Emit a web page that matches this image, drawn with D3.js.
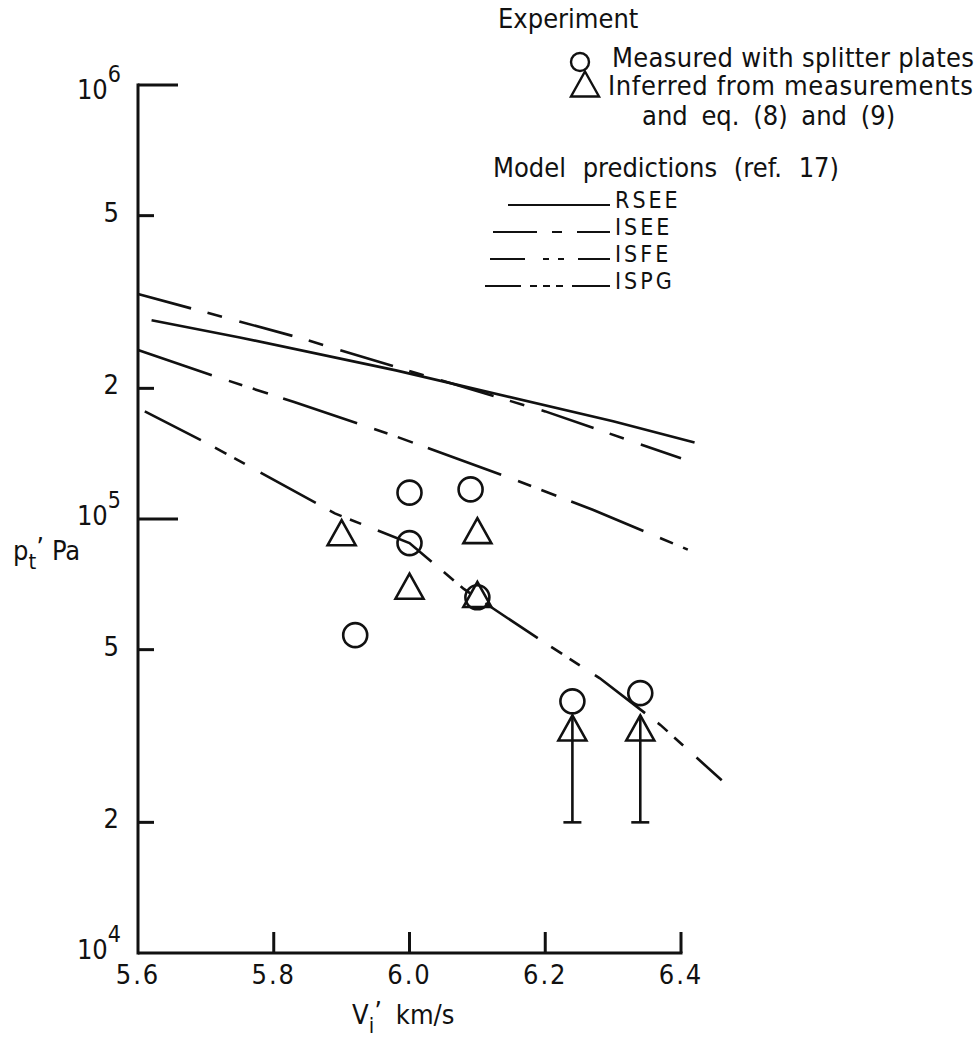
<!DOCTYPE html>
<html>
<head>
<meta charset="utf-8">
<script src="https://cdn.jsdelivr.net/npm/d3@7"></script>
<style>
  body { margin: 0; background: #fff; }
  svg { display: block; background: #fff; }
  text { font-family: "Liberation Sans Narrow", "DejaVu Sans Condensed", "Liberation Sans", sans-serif; fill: #111; }
</style>
</head>
<body>
<svg width="976" height="1044"></svg>
<script>
// axis ticks
const xTicks = [5.6, 5.8, 6.0, 6.2, 6.4];
const xTickLabels = ["5.6", "5.8", "6.0", "6.2", "6.4"];
const yDecades = [1e4, 1e5, 1e6];
const yDecadeExp = ["4", "5", "6"];
const yMinor = [2e4, 5e4, 2e5, 5e5];
const yMinorLabels = ["2", "5", "2", "5"];

// model predictions (ref. 17), V_i in km/s, p_t in Pa
const rseeV = [5.62, 5.75, 5.98, 6.30, 6.42];
const rseeP = [2.87e5, 2.62e5, 2.20e5, 1.68e5, 1.50e5];
const iseeV = [5.60, 5.84, 5.98, 6.20, 6.40];
const iseeP = [3.30e5, 2.61e5, 2.24e5, 1.77e5, 1.38e5];
const isfeV = [5.60, 5.71, 5.83, 5.97, 6.15, 6.27, 6.41];
const isfeP = [2.45e5, 2.14e5, 1.86e5, 1.57e5, 1.24e5, 1.05e5, 8.5e4];
const ispgV = [5.61, 5.70, 5.89, 6.00, 6.08, 6.19, 6.28, 6.37, 6.46];
const ispgP = [1.77e5, 1.50e5, 1.03e5, 8.8e4, 6.9e4, 5.3e4, 4.3e4, 3.35e4, 2.5e4];

// experiment
const measuredV = [5.92, 6.00, 6.00, 6.09, 6.10, 6.24, 6.34];
const measuredP = [5.4e4, 1.15e5, 8.8e4, 1.17e5, 6.6e4, 3.8e4, 3.97e4];
const inferredV = [5.90, 6.00, 6.10, 6.10, 6.24, 6.34];
const inferredP = [9.3e4, 7.0e4, 9.4e4, 6.7e4, 3.3e4, 3.3e4];
const inferredLow = [null, null, null, null, 2e4, 2e4];

const modelNames = ["RSEE", "ISEE", "ISFE", "ISPG"];

const svg = d3.select("svg");

const x = d3.scaleLinear().domain([5.6, 6.4]).range([138, 681]);
const y = d3.scaleLog().domain([1e4, 1e6]).range([953, 85]);

const ink = "#111";

// axes (ticks point inward, like the original)
const axes = svg.append("g").attr("stroke", ink).attr("stroke-width", 3).attr("fill", "none");
axes.append("line")
  .attr("x1", x(5.6)).attr("x2", x(5.6))
  .attr("y1", y(1e6) - 1.5).attr("y2", y(1e4) + 1.5);
axes.append("line")
  .attr("x1", x(5.6)).attr("x2", x(6.4) + 1.5)
  .attr("y1", y(1e4)).attr("y2", y(1e4));

axes.selectAll(".ydec").data(yDecades.slice(1)).join("line")
  .attr("x1", x(5.6)).attr("x2", x(5.6) + 40)
  .attr("y1", (d) => y(d)).attr("y2", (d) => y(d));
axes.selectAll(".ymin").data(yMinor).join("line")
  .attr("x1", x(5.6)).attr("x2", x(5.6) + 16)
  .attr("y1", (d) => y(d)).attr("y2", (d) => y(d));
axes.selectAll(".xt").data(xTicks.slice(1)).join("line")
  .attr("x1", (d) => x(d)).attr("x2", (d) => x(d))
  .attr("y1", y(1e4)).attr("y2", y(1e4) - 21);

// tick labels
svg.selectAll(".xl").data(xTicks).join("text")
  .attr("x", (d) => x(d))
  .attr("y", 984)
  .attr("text-anchor", "middle")
  .attr("font-size", 27)
  .attr("letter-spacing", 2)
  .text((d, i) => xTickLabels[i]);

svg.selectAll(".yl").data(yMinor).join("text")
  .attr("x", 119)
  .attr("y", (d) => y(d) + 6)
  .attr("text-anchor", "end")
  .attr("font-size", 27)
  .text((d, i) => yMinorLabels[i]);

const dec = svg.selectAll(".yd").data(yDecades).join("text")
  .attr("x", 121)
  .attr("y", (d) => y(d) + (d === 1e6 ? 14 : 6))
  .attr("text-anchor", "end")
  .attr("font-size", 27);
dec.append("tspan").text("10");
dec.append("tspan").attr("dy", -17).attr("font-size", 23).text((d, i) => yDecadeExp[i]);

// axis titles
const yt = svg.append("text").attr("x", 13).attr("y", 560).attr("font-size", 27);
yt.append("tspan").text("p");
yt.append("tspan").attr("dy", 9).attr("font-size", 22).text("t");
yt.append("tspan").attr("dy", -12).text("’");
yt.append("tspan").attr("dy", 3).attr("dx", 8).text("Pa");

const xt = svg.append("text").attr("x", 352).attr("y", 1024).attr("font-size", 27);
xt.append("tspan").text("V");
xt.append("tspan").attr("dy", 9).attr("font-size", 22).text("i");
xt.append("tspan").attr("dy", -12).text("’");
xt.append("tspan").attr("dy", 3).attr("dx", 14).text("km/s");

// model curves
const modelV = [rseeV, iseeV, isfeV, ispgV];
const modelP = [rseeP, iseeP, isfeP, ispgP];
const modelDash = [null, "55,17,15,18", "78,18,14,11,16,16", "63,16,13,9,12,18"];
const legendDash = [null, "44,15,10,15,60", "35,18,6,9,6,14,60", "36,9,7,6,7,6,7,9,60"];

const line = d3.line().x((d) => x(d[0])).y((d) => y(d[1]));

svg.append("g").selectAll("path").data(modelNames).join("path")
  .attr("d", (d, i) => line(d3.zip(modelV[i], modelP[i])))
  .attr("fill", "none")
  .attr("stroke", ink)
  .attr("stroke-width", 2.6)
  .attr("stroke-dasharray", (d, i) => modelDash[i]);

// markers
const triW = 28, triH = 25;
const triPath = `M0,${-triH / 2}L${triW / 2},${triH / 2}L${-triW / 2},${triH / 2}Z`;

const marks = svg.append("g").attr("fill", "none").attr("stroke", ink).attr("stroke-width", 2.6);

marks.selectAll("circle").data(measuredV).join("circle")
  .attr("cx", (d) => x(d))
  .attr("cy", (d, i) => y(measuredP[i]))
  .attr("r", 12);

marks.selectAll(".tri").data(inferredV).join("path")
  .attr("d", triPath)
  .attr("transform", (d, i) => `translate(${x(d)},${y(inferredP[i])})`);

// inferred values with a lower bound get a bar down to it
const bars = inferredV.map((v, i) => ({ v, p: inferredP[i], low: inferredLow[i] })).filter((d) => d.low);
marks.selectAll(".eb").data(bars).join("line")
  .attr("x1", (d) => x(d.v)).attr("x2", (d) => x(d.v))
  .attr("y1", (d) => y(d.p) - triH / 2).attr("y2", (d) => y(d.low));
marks.selectAll(".cap").data(bars).join("line")
  .attr("x1", (d) => x(d.v) - 9).attr("x2", (d) => x(d.v) + 9)
  .attr("y1", (d) => y(d.low)).attr("y2", (d) => y(d.low));

// legend
const leg = svg.append("g").attr("font-size", 27);
leg.append("text").attr("x", 498).attr("y", 28).text("Experiment");
leg.append("text").attr("x", 612).attr("y", 67).attr("textLength", 362).text("Measured with splitter plates");
leg.append("text").attr("x", 608).attr("y", 95).attr("textLength", 365).text("Inferred from measurements");
leg.append("text").attr("x", 642).attr("y", 125).attr("word-spacing", 6).text("and eq. (8) and (9)");
leg.append("text").attr("x", 493).attr("y", 177).attr("word-spacing", 9).text("Model predictions (ref. 17)");

leg.append("circle").attr("cx", 580).attr("cy", 62).attr("r", 9)
  .attr("fill", "none").attr("stroke", ink).attr("stroke-width", 2.4);
leg.append("path").attr("d", triPath).attr("transform", "translate(585,84)")
  .attr("fill", "none").attr("stroke", ink).attr("stroke-width", 2.4);

const legY = [208, 235, 262, 289];
const legX0 = [508, 493, 490, 485];
leg.selectAll(".ll").data(modelNames).join("line")
  .attr("x1", (d, i) => legX0[i]).attr("x2", 610)
  .attr("y1", (d, i) => legY[i] - 3).attr("y2", (d, i) => legY[i] - 3)
  .attr("stroke", ink).attr("stroke-width", 2.2)
  .attr("stroke-dasharray", (d, i) => legendDash[i]);
leg.selectAll(".lt").data(modelNames).join("text")
  .attr("x", 615)
  .attr("y", (d, i) => legY[i])
  .attr("font-size", 23)
  .attr("letter-spacing", 3)
  .text((d) => d);
</script>
</body>
</html>
